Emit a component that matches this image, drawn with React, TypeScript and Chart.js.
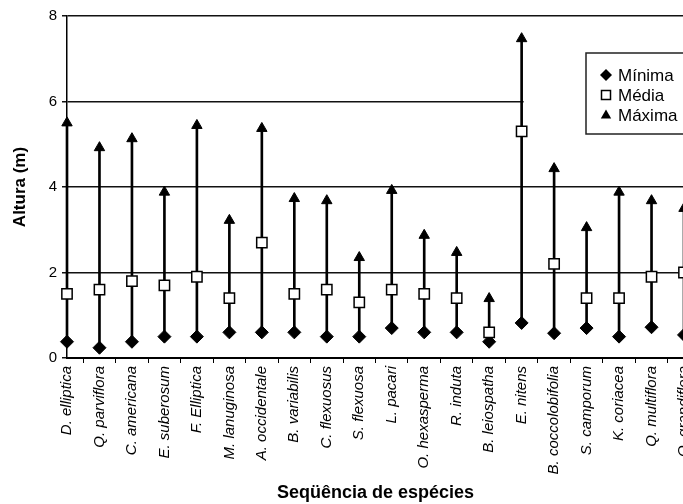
import React, { useEffect, useRef } from "react";
import { Chart, registerables } from "chart.js";

Chart.register(...registerables);

const species = [
  "D. elliptica",
  "Q. parviflora",
  "C. americana",
  "E. suberosum",
  "F. Elliptica",
  "M. lanuginosa",
  "A. occidentale",
  "B. variabilis",
  "C. flexuosus",
  "S. flexuosa",
  "L. pacari",
  "O. hexasperma",
  "R. induta",
  "B. leiospatha",
  "E. nitens",
  "B. coccolobifolia",
  "S. camporum",
  "K. coriacea",
  "Q. multiflora",
  "Q. grandiflora",
];

const minima = [0.38, 0.24, 0.38, 0.5, 0.5, 0.6, 0.6, 0.6, 0.5, 0.5, 0.7, 0.6, 0.6, 0.38, 0.82, 0.58, 0.7, 0.5, 0.72, 0.54];
const media = [1.5, 1.6, 1.8, 1.7, 1.9, 1.4, 2.7, 1.5, 1.6, 1.3, 1.6, 1.5, 1.4, 0.6, 5.3, 2.2, 1.4, 1.4, 1.9, 2.0];
const maxima = [5.5, 4.92, 5.13, 3.88, 5.44, 3.22, 5.37, 3.73, 3.68, 2.35, 3.92, 2.87, 2.47, 1.39, 7.47, 4.43, 3.05, 3.88, 3.68, 3.5];

const yTicks = [0, 2, 4, 6, 8];
const legendLabels = ["Mínima", "Média", "Máxima"];
const xTitle = "Seqüência de espécies";
const yTitle = "Altura (m)";

const FONT = "'Liberation Sans', Arial, Helvetica, sans-serif";

const overlayPlugin = {
  id: "overlay",
  beforeDatasetsDraw(chart: any) {
    const { ctx, chartArea, scales } = chart;
    const x0 = scales.x.getPixelForValue(14) + 2;
    const y6 = scales.y.getPixelForValue(6);
    ctx.save();
    ctx.fillStyle = "#fff";
    ctx.fillRect(x0, y6 - 3, chartArea.right + 30 - x0, 6);
    ctx.restore();
  },
  afterDraw(chart: any) {
    const { ctx, chartArea } = chart;
    const left = chartArea.right - 98;
    const top = chartArea.top + 37;
    const h = 81;
    ctx.save();
    ctx.fillStyle = "#fff";
    ctx.fillRect(left, top, 140, h);
    ctx.strokeStyle = "#222";
    ctx.lineWidth = 1.5;
    ctx.strokeRect(left, top, 140, h);
    const mx = left + 20;
    const tx = left + 32;
    const rows = [top + 22, top + 42, top + 62];
    ctx.fillStyle = "#000";
    let y = rows[0];
    ctx.beginPath();
    ctx.moveTo(mx, y - 6);
    ctx.lineTo(mx + 6, y);
    ctx.lineTo(mx, y + 6);
    ctx.lineTo(mx - 6, y);
    ctx.closePath();
    ctx.fill();
    y = rows[1];
    ctx.fillStyle = "#fff";
    ctx.fillRect(mx - 4.5, y - 4.5, 9, 9);
    ctx.strokeStyle = "#000";
    ctx.lineWidth = 1.5;
    ctx.strokeRect(mx - 4.5, y - 4.5, 9, 9);
    y = rows[2];
    ctx.fillStyle = "#000";
    ctx.beginPath();
    ctx.moveTo(mx, y - 5.5);
    ctx.lineTo(mx + 5.2, y + 3.5);
    ctx.lineTo(mx - 5.2, y + 3.5);
    ctx.closePath();
    ctx.fill();
    ctx.font = `17px ${FONT}`;
    ctx.textBaseline = "middle";
    ctx.textAlign = "left";
    legendLabels.forEach((t, i) => ctx.fillText(t, tx, rows[i] + 1));
    ctx.restore();
  },
};

export default function App() {
  const ref = useRef<HTMLCanvasElement | null>(null);

  useEffect(() => {
    if (!ref.current) return;
    const chart = new Chart(ref.current, {
      type: "bar",
      data: {
        labels: species,
        datasets: [
          {
            type: "line",
            label: legendLabels[1],
            data: media,
            showLine: false,
            pointStyle: "rect",
            pointRadius: 7.3,
            pointBackgroundColor: "#fff",
            pointBorderColor: "#000",
            pointBorderWidth: 1.5,
            clip: false,
            order: 0,
          } as any,
          {
            type: "line",
            label: legendLabels[0],
            data: minima,
            showLine: false,
            pointStyle: "rectRot",
            pointRadius: 6.5,
            pointBackgroundColor: "#000",
            pointBorderColor: "#000",
            pointBorderWidth: 1,
            clip: false,
            order: 1,
          } as any,
          {
            type: "line",
            label: legendLabels[2],
            data: maxima,
            showLine: false,
            pointStyle: "triangle",
            pointRadius: 6,
            pointBackgroundColor: "#000",
            pointBorderColor: "#000",
            pointBorderWidth: 1,
            clip: false,
            order: 2,
          } as any,
          {
            type: "bar",
            label: "range",
            data: minima.map((m, i) => [m, maxima[i]]) as any,
            backgroundColor: "#000",
            borderWidth: 0,
            barThickness: 2,
            clip: false,
            order: 3,
          } as any,
        ],
      },
      options: {
        responsive: true,
        maintainAspectRatio: false,
        animation: false,
        layout: { padding: { top: 16, left: 0, right: 0, bottom: 0 } },
        plugins: {
          legend: { display: false },
          tooltip: { enabled: false },
        },
        scales: {
          x: {
            type: "category",
            offset: false,
            grid: {
              display: true,
              drawOnChartArea: false,
              drawTicks: true,
              tickLength: 5,
              color: "#000",
              lineWidth: 1,
            },
            border: { display: true, color: "#000", width: 2 },
            ticks: {
              autoSkip: false,
              maxRotation: 90,
              minRotation: 90,
              padding: 3,
              color: "#000",
              font: { family: FONT, size: 15, style: "italic" },
            },
            title: {
              display: true,
              text: xTitle,
              color: "#000",
              padding: { top: 4, bottom: 0 },
              font: { family: FONT, size: 18, weight: "bold" },
            },
            afterFit: (scale: any) => {
              scale.height = 146;
            },
          },
          y: {
            type: "linear",
            min: 0,
            max: 8,
            afterBuildTicks: (scale: any) => {
              scale.ticks = yTicks.map((v) => ({ value: v }));
            },
            grid: {
              color: "#111",
              lineWidth: 1.5,
              drawTicks: true,
              tickLength: 5,
            },
            border: { display: true, color: "#000", width: 1.5 },
            ticks: {
              padding: 5,
              color: "#000",
              font: { family: FONT, size: 15 },
            },
            title: {
              display: true,
              text: yTitle,
              color: "#000",
              padding: { top: 10, bottom: 0 },
              font: { family: FONT, size: 17, weight: "bold" },
            },
            afterFit: (scale: any) => {
              scale.width = 67;
            },
          },
        },
      },
      plugins: [overlayPlugin],
    });
    return () => chart.destroy();
  }, []);

  return (
    <div
      style={{
        position: "fixed",
        left: 0,
        top: 0,
        width: 683,
        height: 504,
        overflow: "hidden",
        background: "#fff",
      }}
    >
      <div style={{ position: "relative", width: 705, height: 504 }}>
        <canvas ref={ref} />
      </div>
    </div>
  );
}
